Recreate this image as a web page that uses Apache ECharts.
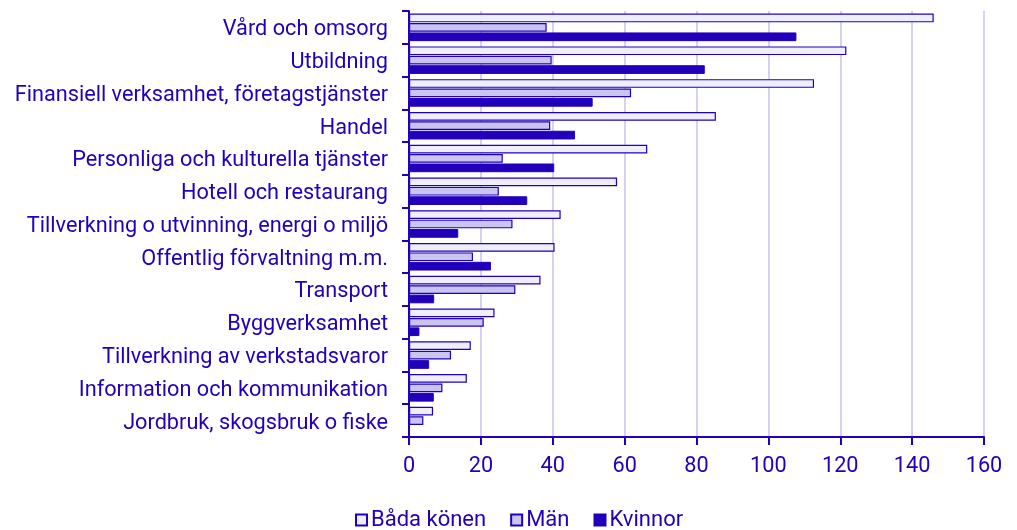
<!DOCTYPE html>
<html>
<head>
<meta charset="utf-8">
<script src="https://cdn.jsdelivr.net/npm/echarts@6/dist/echarts.min.js"></script>
<style>
html,body{margin:0;padding:0;background:#fff;}
#chart{width:1017px;height:530px;}
</style>
</head>
<body>
<div id="chart"></div>
<script>
const categories = [
  "Vård och omsorg",
  "Utbildning",
  "Finansiell verksamhet, företagstjänster",
  "Handel",
  "Personliga och kulturella tjänster",
  "Hotell och restaurang",
  "Tillverkning o utvinning, energi o miljö",
  "Offentlig förvaltning m.m.",
  "Transport",
  "Byggverksamhet",
  "Tillverkning av verkstadsvaror",
  "Information och kommunikation",
  "Jordbruk, skogsbruk o fiske"
];
const seriesNames = ["Båda könen", "Män", "Kvinnor"];
const badaKonen = [146.0, 121.7, 112.7, 85.4, 66.3, 57.9, 42.2, 40.5, 36.6, 23.8, 17.2, 16.1, 6.7];
const man       = [38.3, 39.7, 61.8, 39.3, 26.1, 25.0, 28.8, 17.8, 29.6, 20.8, 11.7, 9.3, 4.0];
const kvinnor   = [107.8, 82.3, 51.1, 46.2, 40.4, 32.9, 13.7, 22.8, 7.0, 2.9, 5.6, 6.9, 0];
const xTicks = [0, 20, 40, 60, 80, 100, 120, 140, 160];

const blue = '#2200BB';
const font = 'Roboto';
const chart = echarts.init(document.getElementById('chart'));
chart.setOption({
  animation: false,
  textStyle: { fontFamily: font, color: blue },
  grid: { left: 409, right: 33, top: 11, bottom: 93, containLabel: false },
  legend: {
    data: seriesNames,
    top: 504,
    left: 350,
    icon: 'rect',
    itemWidth: 11,
    itemHeight: 11,
    itemGap: 24,
    textStyle: { fontFamily: font, fontSize: 22, color: blue, padding: [0, 0, 0, -1] }
  },
  xAxis: {
    type: 'value',
    min: xTicks[0],
    max: xTicks[xTicks.length - 1],
    interval: 20,
    axisLine: { show: true, lineStyle: { color: blue, width: 2 } },
    axisTick: { show: true, length: 8, lineStyle: { color: blue, width: 2 } },
    axisLabel: { fontFamily: font, fontSize: 21.7, color: blue, margin: 19 },
    splitLine: { show: true, lineStyle: { color: '#D3D3F1', width: 2 } }
  },
  yAxis: {
    type: 'category',
    data: categories,
    inverse: true,
    axisLine: { show: true, lineStyle: { color: blue, width: 2 } },
    axisTick: { show: true, length: 7, lineStyle: { color: blue, width: 2 } },
    axisLabel: {
      fontFamily: font, fontSize: 21.7, color: blue, margin: 21,
      formatter: function (v) { return '{a|' + v + '}'; },
      rich: { a: { fontFamily: font, fontSize: 21.7, color: blue, padding: [5, 0, 0, 0] } }
    },
    splitLine: { show: false }
  },
  series: [
    {
      name: seriesNames[0], type: 'bar', data: badaKonen,
      barCategoryGap: '16%', barGap: '8%',
      itemStyle: { color: '#EEEEFC', borderColor: blue, borderWidth: 1.2 }
    },
    {
      name: seriesNames[1], type: 'bar', data: man,
      itemStyle: { color: '#C9C5EF', borderColor: blue, borderWidth: 1.2 }
    },
    {
      name: seriesNames[2], type: 'bar', data: kvinnor,
      itemStyle: { color: blue, borderColor: blue, borderWidth: 1 }
    }
  ]
});
</script>
</body>
</html>
